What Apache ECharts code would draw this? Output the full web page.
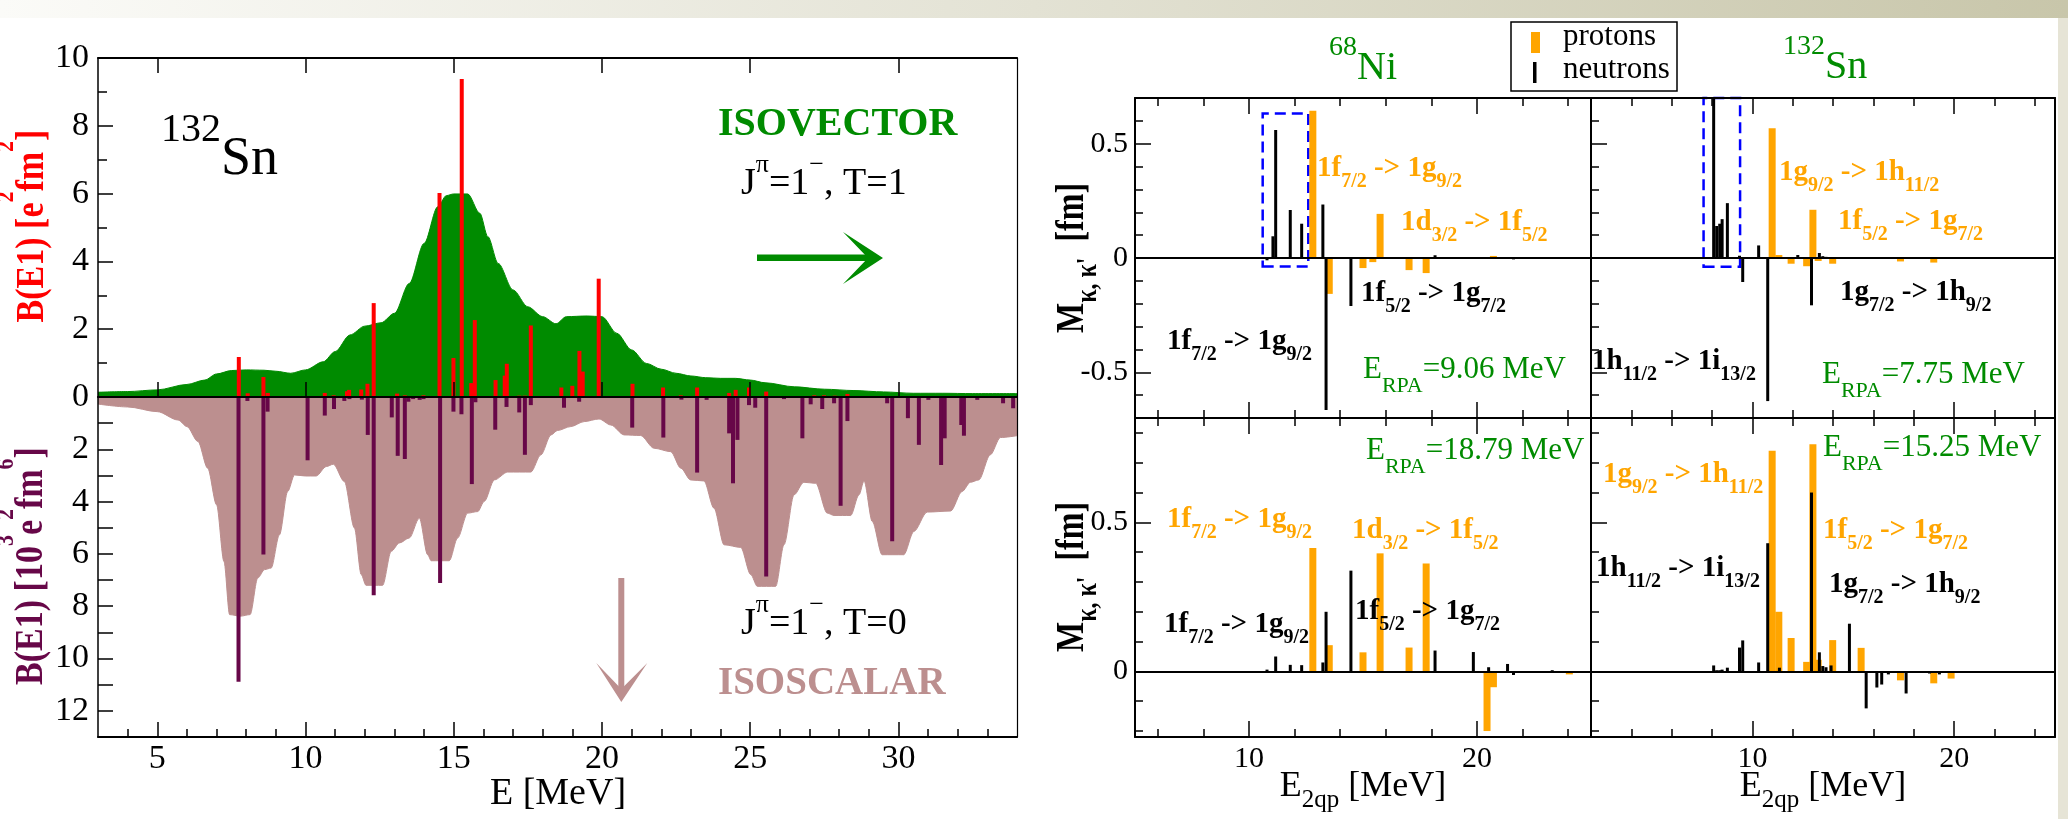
<!DOCTYPE html>
<html>
<head>
<meta charset="utf-8">
<title>B(E1) strength in 132Sn and 2qp amplitudes</title>
<script src="https://cdn.jsdelivr.net/npm/echarts@6/dist/echarts.min.js"></script>
<style>
  html, body { margin: 0; padding: 0; background: #fff; }
  #chart { width: 2068px; height: 819px; }
</style>
</head>
<body>
<div id="chart"></div>
<script>
// ---------- left panel: 132Sn, B(E1) isovector (up) / isoscalar (down) ----------
const ivE = [7.75, 8.05, 8.58, 8.73, 10.65, 10.95, 11.40, 11.47, 11.88, 12.09, 12.30, 13.09, 13.35, 13.98,
  14.52, 14.99, 15.27, 15.59, 15.71, 16.41, 16.72, 16.79, 17.21, 17.40, 17.60, 18.63, 19.00, 19.24, 19.35,
  19.89, 21.03, 22.06, 22.66, 23.21, 24.29, 24.51, 24.96, 25.54, 27.16, 27.49, 27.85, 28.28, 32.63];
const ivB = [1.18, 0.11, 0.59, 0.12, 0.12, 0.05, 0.17, 0.21, 0.22, 0.39, 2.77, 0.10, 0.05, 0.05,
  6.02, 1.15, 9.38, 0.41, 2.27, 0.50, 0.63, 0.98, 0.04, 0.04, 2.11, 0.28, 0.33, 1.36, 0.75,
  3.49, 0.39, 0.28, 0.05, 0.28, 0.12, 0.21, 0.28, 0.16, 0.05, 0.05, 0.04, 0.09, 0.03];

const isE = [7.74, 8.04, 8.58, 8.72, 9.20, 10.07, 10.65, 10.96, 11.31, 11.48, 11.90, 12.10, 12.30, 12.91,
  13.11, 13.35, 13.47, 13.63, 13.85, 13.98, 14.54, 14.99, 15.26, 15.61, 15.73, 16.40, 16.78, 17.21, 17.40,
  17.60, 18.72, 19.23, 21.02, 22.07, 22.68, 23.21, 23.53, 24.29, 24.42, 24.57, 24.96, 25.17, 25.54, 26.14,
  26.76, 27.04, 27.43, 27.83, 28.05, 28.28, 29.62, 29.79, 30.32, 30.69, 31.01, 31.44, 31.56, 32.12, 32.21,
  32.66, 33.53, 33.87];
const isB = [10.89, 0.15, 6.02, 0.56, 0.03, 2.42, 0.71, 0.46, 0.15, 0.08, 0.10, 1.45, 7.58, 0.78,
  2.25, 2.37, 0.18, 0.08, 0.11, 0.08, 7.11, 0.56, 0.66, 3.33, 0.20, 1.25, 0.38, 0.59, 2.21,
  0.31, 0.41, 0.18, 1.17, 1.55, 0.10, 2.89, 0.11, 1.39, 3.30, 1.64, 0.31, 0.41, 6.86, 0.08,
  1.58, 0.28, 0.46, 0.24, 4.16, 0.92, 0.24, 5.52, 0.81, 1.83, 0.11, 2.60, 1.58, 1.07, 1.48,
  0.11, 0.24, 0.43];

// folded (smeared) strength
const ivFoldE = [3.0, 4.0, 5.0, 6.0, 6.6, 7.0, 7.5, 8.0, 8.6, 9.0, 9.5, 10.0, 10.6, 11.0, 11.5, 12.0, 12.55,
  13.0, 13.5, 14.0, 14.46, 14.75, 15.0, 15.47, 15.88, 16.15, 16.5, 17.0, 17.5, 18.0, 18.45, 18.8, 19.5,
  20.0, 20.5, 21.0, 21.5, 22.0, 22.5, 23.0, 23.5, 24.0, 24.5, 25.0, 25.5, 26.5, 27.5, 28.5, 29.5, 30.5,
  31.5, 32.5, 34.0];
const ivFold = [0.14, 0.16, 0.21, 0.37, 0.50, 0.68, 0.78, 0.80, 0.79, 0.76, 0.70, 0.80, 1.04, 1.34, 1.83, 2.09, 2.19,
  2.47, 3.35, 4.53, 5.61, 5.94, 5.99, 5.99, 5.42, 4.73, 3.94, 3.16, 2.66, 2.37, 2.16, 2.37, 2.39,
  2.37, 1.88, 1.39, 0.99, 0.82, 0.70, 0.62, 0.57, 0.55, 0.55, 0.50, 0.42, 0.30, 0.23, 0.19, 0.15, 0.11,
  0.11, 0.10, 0.10];

const isFoldE = [3.0, 4.0, 5.0, 5.7, 6.0, 6.37, 6.7, 7.0, 7.25, 7.44, 7.8, 8.13, 8.39, 8.62, 8.84, 9.12, 9.4,
  9.63, 10.0, 10.36, 10.7, 10.94, 11.31, 11.65, 11.88, 12.04, 12.6, 12.89, 13.17, 13.5, 13.84, 14.12, 14.24,
  14.85, 15.13, 15.47, 15.81, 16.03, 16.37, 16.82, 17.6, 17.94, 18.28, 18.5, 18.95, 19.4, 19.9, 20.3, 20.75,
  21.3, 21.76, 22.32, 22.66, 22.99, 23.44, 23.78, 24.12, 24.68, 25.02, 25.24, 25.86, 26.14, 26.48, 26.81,
  27.21, 27.6, 27.83, 28.39, 28.67, 28.84, 29.12, 29.45, 30.18, 30.52, 30.97, 31.76, 32.15, 32.43, 32.71,
  33.1, 33.44, 34.0];
const isFold = [0.27, 0.38, 0.56, 0.88, 1.13, 1.70, 2.72, 4.12, 6.29, 8.32, 8.38, 8.32, 6.92, 6.60, 6.54, 5.27, 3.61,
  2.98, 3.02, 3.02, 2.66, 2.57, 3.23, 5.01, 6.79, 7.20, 7.20, 5.90, 5.58, 5.39, 4.63, 6.03, 6.26,
  6.26, 5.39, 4.44, 4.38, 3.99, 3.17, 2.87, 2.87, 2.21, 1.45, 1.28, 1.13, 0.94, 0.84, 1.07, 1.45,
  1.47, 1.96, 2.09, 2.72, 3.17, 3.21, 4.25, 5.65, 5.75, 6.79, 7.24, 7.24, 5.65, 3.74, 3.26,
  3.30, 4.44, 4.53, 4.53, 3.74, 3.21, 4.76, 6.03, 6.03, 5.14, 4.40, 4.36, 3.61, 3.26, 3.17,
  2.21, 1.55, 1.48];

// ---------- right panels: M_kk' [fm] vs E_2qp, upper row = low-lying state, lower row = GDR state ----------
const niProtE    = [12.80, 13.52, 15.00, 15.43, 15.75, 17.02, 17.77, 20.44, 20.72, 24.05];
const niProtLow  = [0.644, -0.157, -0.044, -0.018, 0.193, -0.053, -0.066, 0, 0.009, 0];
const niProtHigh = [0.414, 0.088, 0.064, 0, 0.396, 0.080, 0.362, -0.200, -0.053, -0.010];
const niNeutE    = [10.79, 11.05, 11.17, 11.81, 12.31, 13.24, 13.38, 14.47, 18.16, 19.84, 20.51, 21.34, 21.60, 23.30];
const niNeutLow  = [-0.010, 0.095, 0.560, 0.210, 0.150, 0.234, -0.665, -0.210, 0.012, 0, 0, 0, -0.006, -0.004];
const niNeutHigh = [0.006, 0, 0.050, 0.022, 0.021, 0.030, 0.200, 0.338, 0.070, 0.065, 0.014, 0.025, -0.012, 0.004];

const snProtE    = [10.98, 11.31, 11.92, 12.69, 13.00, 13.26, 13.98, 15.39, 17.34, 18.99, 19.85];
const snProtLow  = [0.568, 0.013, -0.025, -0.036, 0.211, -0.013, -0.025, 0, -0.015, -0.020, 0];
const snProtHigh = [0.740, 0.200, 0.112, 0.032, 0.762, 0.039, 0.105, 0.079, -0.030, -0.040, -0.024];
const snNeutE    = [8.08, 8.23, 8.38, 8.50, 8.76, 9.36, 9.52, 10.31, 10.76, 11.34, 12.25, 12.93, 13.32, 13.49,
  13.65, 13.90, 14.81, 15.64, 16.17, 16.41, 16.74, 17.62, 18.78, 19.27, 21.04, 23.29, 24.40];
const snNeutLow  = [0.72, 0.140, 0.150, 0.170, 0.240, 0.010, -0.105, 0.055, -0.626, 0, 0.013, -0.207, 0.022, 0.008,
  0.005, 0, 0, 0, 0.004, 0, 0, 0, 0, 0, 0, 0.003, 0];
const snNeutHigh = [0.020, 0.004, 0.004, 0.006, 0.0125, 0.080, 0.104, 0.030, 0.430, 0.0125, 0, 0.600, 0.064, 0.018,
  0.014, 0.020, 0.160, -0.124, -0.054, -0.044, -0.010, -0.074, -0.007, -0.010, -0.004, -0.004, -0.004];

// dashed boxes [Emin, Emax, Mmin, Mmax]
const niBox = [10.6, 12.6, -0.037, 0.632];
const snBox = [7.58, 9.39, -0.038, 0.70];

// ---------- ticks ----------
const leftMajorE = [5, 10, 15, 20, 25, 30];
const leftMinorE = [4, 6, 7, 8, 9, 11, 12, 13, 14, 16, 17, 18, 19, 21, 22, 23, 24, 26, 27, 28, 29, 31, 32, 33];
const ivLabelB = [0, 2, 4, 6, 8, 10];
const ivMinorB = [1, 3, 5, 7, 9];
const isTickB = [1, 2, 3, 4, 5, 6, 7, 8, 9, 10, 11, 12];
const isLabelB = [2, 4, 6, 8, 10, 12];
const qpMajorE = [10, 20];
const niMinorE = [6, 8, 12, 14, 16, 18, 22, 24];
const snMinorE = [4, 6, 8, 12, 14, 16, 18, 22, 24];
const mUpMajor = [-0.5, 0, 0.5];
const mUpMinor = [-0.6, -0.4, -0.3, -0.2, -0.1, 0.1, 0.2, 0.3, 0.4, 0.6];
const mLoMajor = [0, 0.5];
const mLoMinor = [-0.2, -0.1, 0.1, 0.2, 0.3, 0.4, 0.6, 0.7, 0.8];

const FONT = '"Liberation Serif", "DejaVu Serif", serif';
const GREEN = 'rgb(0,139,0)';
const BROWN = 'rgb(188,143,143)';
const MAROON = 'rgb(103,7,72)';
const ORANGE = 'rgb(255,165,0)';
const RED = '#ff0000';
const BLUE = '#0000ff';

const chart = echarts.init(document.getElementById('chart'));

const grid = [
  { left: 98, top: 58, width: 919, height: 339 },    // 0 isovector
  { left: 98, top: 397, width: 919, height: 340 },   // 1 isoscalar
  { left: 1135, top: 98, width: 456, height: 320 },  // 2 Ni upper
  { left: 1135, top: 418, width: 456, height: 319 }, // 3 Ni lower
  { left: 1591, top: 98, width: 464, height: 320 },  // 4 Sn upper
  { left: 1591, top: 418, width: 464, height: 319 }, // 5 Sn lower
];

const xAxis = [];
const yAxis = [];
function axis(gi, min, max, pos, ticks, len, lw, labels, fs, extra) {
  return Object.assign({
    type: 'value', gridIndex: gi, min, max, position: pos, z: 10,
    axisLine: { show: lw > 0, onZero: false, lineStyle: { color: '#000', width: lw || 1 } },
    axisTick: { show: !!ticks, inside: true, length: len, customValues: ticks || [], lineStyle: { color: '#000', width: 1.5 } },
    axisLabel: labels
      ? { show: true, customValues: labels, margin: 7, fontFamily: FONT, fontSize: fs, color: '#000' }
      : { show: false },
    splitLine: { show: false },
  }, extra || {});
}
function addX(o) { xAxis.push(o); return xAxis.length - 1; }
function addY(o) { yAxis.push(o); return yAxis.length - 1; }

// left panel axes
const xIV = addX(axis(0, 3, 34, 'bottom', leftMajorE, 15, 2));
addX(axis(0, 3, 34, 'top', leftMajorE, 15, 2));
const yIV = addY(axis(0, 0, 10, 'left', ivLabelB, 15, 1.5, ivLabelB, 34, { axisLabel: { show: true, customValues: ivLabelB, margin: 9, fontFamily: FONT, fontSize: 34, color: '#000' } }));
addY(axis(0, 0, 10, 'left', ivMinorB, 9, 0));
addY(axis(0, 0, 10, 'right', null, 0, 1.2));

const xIS = addX(axis(1, 3, 34, 'bottom', leftMajorE, 15, 2, leftMajorE, 34, { axisLabel: { show: true, customValues: leftMajorE, margin: 5, fontFamily: FONT, fontSize: 34, color: '#000' } }));
addX(axis(1, 3, 34, 'bottom', leftMinorE, 8, 0));
const yIS = addY(axis(1, 0, 13, 'left', isTickB, 15, 1.5, isLabelB, 34, { inverse: true, axisLabel: { show: true, customValues: isLabelB, margin: 9, fontFamily: FONT, fontSize: 34, color: '#000' } }));
addY(axis(1, 0, 13, 'right', null, 0, 1.2, null, 0, { inverse: true }));

// right panels axes
function panel(gi, xmin, xmax, minorE, ymin, ymax, yMajor, yMinor, xLabels, yLabels, rightLine) {
  const xi = addX(axis(gi, xmin, xmax, 'bottom', qpMajorE, 16, 2, xLabels ? qpMajorE : null, 30));
  addX(axis(gi, xmin, xmax, 'bottom', minorE, 8, 0));
  addX(axis(gi, xmin, xmax, 'top', qpMajorE, 16, 2));
  addX(axis(gi, xmin, xmax, 'top', minorE, 8, 0));
  const yi = addY(axis(gi, ymin, ymax, 'left', yMajor, 16, 2, yLabels ? yMajor : null, 30));
  addY(axis(gi, ymin, ymax, 'left', yMinor, 8, 0));
  if (rightLine) addY(axis(gi, ymin, ymax, 'right', null, 0, 2));
  return { xi, yi };
}
const pNiU = panel(2, 5, 25, niMinorE, -0.7, 0.7, mUpMajor, mUpMinor, false, true, false);
const pNiL = panel(3, 5, 25, niMinorE, -0.22, 0.85, mLoMajor, mLoMinor, true, true, false);
const pSnU = panel(4, 2, 25, snMinorE, -0.7, 0.7, mUpMajor, mUpMinor, false, false, true);
const pSnL = panel(5, 2, 25, snMinorE, -0.22, 0.85, mLoMajor, mLoMinor, true, false, true);

// ---------- series ----------
function bars(w) {
  return function (params, api) {
    const a = api.coord([api.value(0), 0]);
    const b = api.coord([api.value(0), api.value(1)]);
    return {
      type: 'rect',
      shape: { x: a[0] - w / 2, y: Math.min(a[1], b[1]), width: w, height: Math.abs(b[1] - a[1]) },
      style: { fill: api.visual('color') },
    };
  };
}
function barSeries(name, p, es, vs, color, w, z, extra) {
  return Object.assign({
    type: 'custom', name, xAxisIndex: p.xi, yAxisIndex: p.yi, clip: true, z, silent: true,
    renderItem: bars(w), itemStyle: { color }, encode: { x: 0, y: 1 },
    data: es.map((e, i) => [e, vs[i]]).filter(d => d[1] !== 0),
  }, extra || {});
}
function foldSeries(name, p, es, vs, color) {
  return {
    type: 'line', name, xAxisIndex: p.xi, yAxisIndex: p.yi, z: 1, silent: true,
    data: es.map((e, i) => [e, vs[i]]),
    smooth: 0.3, smoothMonotone: 'x', symbol: 'none',
    lineStyle: { color, width: 1 }, areaStyle: { color, opacity: 1 },
  };
}
const zeroLine = {
  silent: true, symbol: ['none', 'none'], label: { show: false },
  lineStyle: { color: '#000', width: 2, type: 'solid' }, data: [{ yAxis: 0 }],
};
function box(b) {
  return {
    silent: true,
    itemStyle: { color: 'rgba(0,0,0,0)', borderColor: BLUE, borderWidth: 2.5, borderType: [11, 6] },
    data: [[{ coord: [b[0], b[2]] }, { coord: [b[1], b[3]] }]],
  };
}

const pIV = { xi: xIV, yi: yIV };
const pIS = { xi: xIS, yi: yIS };

const series = [
  foldSeries('isovector folded', pIV, ivFoldE, ivFold, GREEN),
  barSeries('isovector', pIV, ivE, ivB, RED, 4, 3),
  foldSeries('isoscalar folded', pIS, isFoldE, isFold, BROWN),
  barSeries('isoscalar', pIS, isE, isB, MAROON, 4, 3),

  barSeries('protons', pNiU, niProtE, niProtLow, ORANGE, 7, 3, { markArea: box(niBox) }),
  barSeries('neutrons', pNiU, niNeutE, niNeutLow, '#000', 3, 4, { markLine: zeroLine }),
  barSeries('protons', pNiL, niProtE, niProtHigh, ORANGE, 7, 3),
  barSeries('neutrons', pNiL, niNeutE, niNeutHigh, '#000', 3, 4, { markLine: zeroLine }),

  barSeries('protons', pSnU, snProtE, snProtLow, ORANGE, 7, 3, { markArea: box(snBox) }),
  barSeries('neutrons', pSnU, snNeutE, snNeutLow, '#000', 3, 4, { markLine: zeroLine }),
  barSeries('protons', pSnL, snProtE, snProtHigh, ORANGE, 7, 3),
  barSeries('neutrons', pSnL, snNeutE, snNeutHigh, '#000', 3, 4, { markLine: zeroLine }),
];

// ---------- texts with sub/superscripts ----------
function rich(parts, F, o) {
  const f = o.f || Math.round(F * 0.7);
  const rise = o.rise != null ? o.rise : 0.6 * F;
  const drop = o.drop != null ? o.drop : 0.35 * F;
  const hasSup = parts.some(p => p[0] === '^');
  const d = 0.83 * f + rise - 0.83 * F;
  const pm = hasSup ? Math.max(0, d) : 0;
  const pp = hasSup ? Math.max(0, -d) : 0;
  const pb = pm + 0.83 * F + drop - 0.83 * f;
  const base = { fontFamily: FONT, fontWeight: o.bold ? 'bold' : 'normal', fill: o.color || '#000', verticalAlign: 'top' };
  const r = {
    m: Object.assign({}, base, { fontSize: F, padding: [pm, 0, 0, 0] }),
    b: Object.assign({}, base, { fontSize: f, padding: [pb, 0, 0, 0] }),
    p: Object.assign({}, base, { fontSize: f, padding: [pp, 0, 0, 0] }),
  };
  const text = parts.map(p => {
    if (p[0] === '_') return '{b|' + p.slice(1) + '}';
    if (p[0] === '^') return '{p|' + p.slice(1) + '}';
    return '{m|' + p + '}';
  }).join('');
  return { text, rich: r, base: pm + 0.83 * F };
}
function label(x, yBase, parts, F, o) {
  o = o || {};
  const t = rich(parts, F, o);
  return {
    type: 'text', x, y: yBase - t.base, z: 50, silent: true,
    style: { text: t.text, rich: t.rich, align: o.align || 'left', verticalAlign: 'top' },
  };
}
function vlabel(xBase, yc, parts, F, o) {
  const t = rich(parts, F, o);
  const sy = o.sy || 1;
  return {
    type: 'text', x: xBase - t.base * sy, y: yc, rotation: Math.PI / 2, scaleY: sy, z: 50, silent: true,
    style: { text: t.text, rich: t.rich, align: 'center', verticalAlign: 'top' },
  };
}

const tr = (a, b, c, d) => [a, '_' + b, ' -> ' + c, '_' + d];
const OB = { bold: true, color: ORANGE, f: 20, drop: 10 };
const KB = { bold: true, color: '#000', f: 20, drop: 10 };
const GR = { color: GREEN, f: 22, drop: 13 };

const graphic = [
  // slide background band
  { type: 'rect', z: -10, silent: true, shape: { x: 0, y: 0, width: 2068, height: 18 },
    style: { fill: new echarts.graphic.LinearGradient(0, 0, 1, 0, [
      { offset: 0, color: '#fbfbf8' }, { offset: 0.5, color: '#e3e2d4' }, { offset: 1, color: '#c8c6aa' }]) } },
  { type: 'rect', z: -10, silent: true, shape: { x: 2058, y: 18, width: 10, height: 801 }, style: { fill: '#e6e4d6' } },

  // left panel annotations
  label(161, 178, ['^132', 'Sn'], 54, { f: 40, rise: 34 }),
  label(718, 138, ['ISOVECTOR'], 40, { bold: true, color: GREEN }),
  label(741, 197, ['J', '^π', '=1', '^−', ', T=1'], 38, { f: 26, rise: 23 }),
  label(741, 637, ['J', '^π', '=1', '^−', ', T=0'], 38, { f: 26, rise: 23 }),
  label(718, 697, ['ISOSCALAR'], 39, { bold: true, color: BROWN }),
  label(558, 807, ['E [MeV]'], 38, { align: 'center' }),
  vlabel(46, 226, ['B(E1) [e', '^2', 'fm', '^2', ']'], 34, { bold: true, color: RED, f: 22, rise: 27, sy: 1.15 }),
  vlabel(45, 566, ['B(E1) [10', '^3', 'e', '^2', 'fm', '^6', ']'], 34, { bold: true, color: MAROON, f: 22, rise: 26, sy: 1.15 }),
  // arrows
  { type: 'rect', z: 40, silent: true, shape: { x: 757, y: 254.5, width: 114, height: 6.5 }, style: { fill: GREEN } },
  { type: 'polygon', z: 40, silent: true, shape: { points: [[883, 258], [843, 232], [868, 258], [843, 284]] }, style: { fill: GREEN } },
  { type: 'rect', z: 40, silent: true, shape: { x: 618.3, y: 578, width: 6, height: 112 }, style: { fill: BROWN } },
  { type: 'polygon', z: 40, silent: true, shape: { points: [[621.3, 702], [596.3, 663], [621.3, 689], [647.3, 663]] }, style: { fill: BROWN } },

  // right panel titles and legend
  label(1329, 82, ['^68', 'Ni'], 40, { f: 28, rise: 25, color: GREEN }),
  label(1783, 81, ['^132', 'Sn'], 40, { f: 28, rise: 25, color: GREEN }),
  { type: 'rect', z: 40, silent: true, shape: { x: 1511, y: 22, width: 166, height: 69 }, style: { fill: '#fff', stroke: '#000', lineWidth: 1.5 } },
  { type: 'rect', z: 41, silent: true, shape: { x: 1531, y: 32, width: 9, height: 21 }, style: { fill: ORANGE } },
  { type: 'rect', z: 41, silent: true, shape: { x: 1533, y: 62, width: 3.5, height: 21 }, style: { fill: '#000' } },
  label(1563, 47, ['protons'], 31),
  label(1563, 80, ['neutrons'], 31),

  // 68Ni, low-lying state
  label(1317, 178, tr('1f', '7/2', '1g', '9/2'), 29, OB),
  label(1401, 232, tr('1d', '3/2', '1f', '5/2'), 29, OB),
  label(1361, 303, tr('1f', '5/2', '1g', '7/2'), 29, KB),
  label(1167, 351, tr('1f', '7/2', '1g', '9/2'), 29, KB),
  label(1363, 380, ['E', '_RPA', '=9.06 MeV'], 31, GR),
  // 68Ni, GDR
  label(1366, 461, ['E', '_RPA', '=18.79 MeV'], 31, GR),
  label(1167, 529, tr('1f', '7/2', '1g', '9/2'), 29, OB),
  label(1352, 540, tr('1d', '3/2', '1f', '5/2'), 29, OB),
  label(1164, 634, tr('1f', '7/2', '1g', '9/2'), 29, KB),
  label(1355, 621, tr('1f', '5/2', '1g', '7/2'), 29, KB),
  // 132Sn, low-lying state
  label(1779, 182, tr('1g', '9/2', '1h', '11/2'), 29, OB),
  label(1838, 231, tr('1f', '5/2', '1g', '7/2'), 29, OB),
  label(1840, 302, tr('1g', '7/2', '1h', '9/2'), 29, KB),
  label(1592, 371, tr('1h', '11/2', '1i', '13/2'), 29, KB),
  label(1822, 385, ['E', '_RPA', '=7.75 MeV'], 31, GR),
  // 132Sn, GDR
  label(1823, 458, ['E', '_RPA', '=15.25 MeV'], 31, GR),
  label(1603, 484, tr('1g', '9/2', '1h', '11/2'), 29, OB),
  label(1823, 540, tr('1f', '5/2', '1g', '7/2'), 29, OB),
  label(1596, 578, tr('1h', '11/2', '1i', '13/2'), 29, KB),
  label(1829, 594, tr('1g', '7/2', '1h', '9/2'), 29, KB),

  // right axis names
  label(1363, 798, ['E', '_2qp', ' [MeV]'], 36, { f: 25, drop: 11, align: 'center' }),
  label(1823, 798, ['E', '_2qp', ' [MeV]'], 36, { f: 25, drop: 11, align: 'center' }),
  vlabel(1086, 258, ['M', '_κ, κ\'', '  [fm]'], 32, { bold: true, f: 24, drop: 10, sy: 1.25 }),
  vlabel(1086, 577, ['M', '_κ, κ\'', '  [fm]'], 32, { bold: true, f: 24, drop: 10, sy: 1.25 }),
];

chart.setOption({
  animation: false,
  backgroundColor: '#fff',
  grid,
  xAxis,
  yAxis,
  series,
  graphic,
});
</script>
</body>
</html>
